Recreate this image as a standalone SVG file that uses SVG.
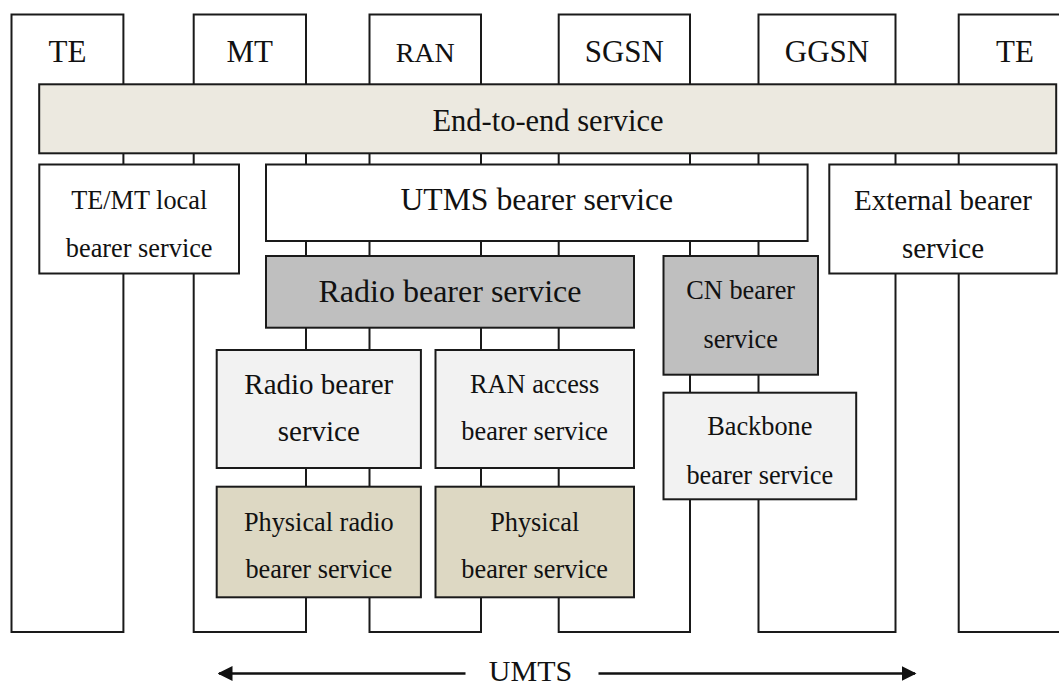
<svg xmlns="http://www.w3.org/2000/svg" width="1059" height="689" viewBox="0 0 1059 689">
  <style>
    .col { fill: #ffffff; stroke: #1a1a1a; stroke-width: 2; }
    .box { stroke: #1a1a1a; stroke-width: 2; }
    .white { fill: #ffffff; }
    .beige { fill: #ECE9E0; }
    .dark { fill: #BFBFBF; }
    .light { fill: #F2F2F2; }
    .tan { fill: #DDD8C3; }
    text { font-family: "Liberation Serif", "Times New Roman", serif; fill: #111111; text-anchor: middle; }
    .conn { stroke: #111111; stroke-width: 2.5; fill: none; }
  </style>
  <defs>
    <marker id="arrow" viewBox="0 0 10 10" refX="9" refY="5" markerWidth="6" markerHeight="6" markerUnits="strokeWidth" orient="auto-start-reverse">
      <path d="M0,0 L10,5 L0,10 z" fill="#111111"/>
    </marker>
  </defs>
  <rect x="0" y="0" width="1059" height="689" fill="#ffffff"/>

  <!-- Network element columns -->
  <g id="col-te-left">
    <rect class="col" x="11.5" y="14.5" width="111.9" height="617.5"/>
    <text x="67.5" y="62" font-size="31">TE</text>
  </g>
  <g id="col-mt">
    <rect class="col" x="193.7" y="14.5" width="112.3" height="617.5"/>
    <text x="249.8" y="62" font-size="31">MT</text>
  </g>
  <g id="col-ran">
    <rect class="col" x="369.5" y="14.5" width="111.5" height="617.5"/>
    <text x="425.2" y="62" font-size="28">RAN</text>
  </g>
  <g id="col-sgsn">
    <rect class="col" x="558.7" y="14.5" width="131.3" height="617.5"/>
    <text x="624.3" y="62" font-size="31">SGSN</text>
  </g>
  <g id="col-ggsn">
    <rect class="col" x="758.5" y="14.5" width="137" height="617.5"/>
    <text x="827" y="62" font-size="31">GGSN</text>
  </g>
  <g id="col-te-right">
    <rect class="col" x="958.7" y="14.5" width="112.3" height="617.5"/>
    <text x="1015" y="62" font-size="31">TE</text>
  </g>

  <!-- Service boxes -->
  <g id="end-to-end">
    <rect class="box beige" x="39.2" y="84.3" width="1017" height="69"/>
    <text x="548" y="130.5" font-size="30.5">End-to-end service</text>
  </g>
  <g id="temt-local">
    <rect class="box white" x="39.3" y="164.5" width="199.7" height="109"/>
    <text x="139.2" y="209.3" font-size="26.3">TE/MT local</text>
    <text x="139.2" y="256.7" font-size="26.3">bearer service</text>
  </g>
  <g id="utms-bearer">
    <rect class="box white" x="266" y="164.5" width="541.6" height="76.5"/>
    <text x="536.8" y="210" font-size="31.7">UTMS bearer service</text>
  </g>
  <g id="external-bearer">
    <rect class="box white" x="829.3" y="164.5" width="227.4" height="109"/>
    <text x="943" y="210" font-size="29">External bearer</text>
    <text x="943" y="258.3" font-size="29">service</text>
  </g>
  <g id="radio-bearer-top">
    <rect class="box dark" x="266" y="256" width="368" height="71.7"/>
    <text x="450" y="302" font-size="32">Radio bearer service</text>
  </g>
  <g id="cn-bearer">
    <rect class="box dark" x="663.5" y="256" width="154.5" height="118.7"/>
    <text x="740.7" y="298.5" font-size="26.3">CN bearer</text>
    <text x="740.7" y="347.5" font-size="26.3">service</text>
  </g>
  <g id="radio-bearer">
    <rect class="box light" x="216.7" y="350" width="204.2" height="118"/>
    <text x="318.8" y="393.5" font-size="29">Radio bearer</text>
    <text x="318.8" y="441" font-size="29">service</text>
  </g>
  <g id="ran-access-bearer">
    <rect class="box light" x="435.5" y="350" width="198.5" height="118"/>
    <text x="534.7" y="393.3" font-size="26.3">RAN access</text>
    <text x="534.7" y="440" font-size="26.3">bearer service</text>
  </g>
  <g id="backbone-bearer">
    <rect class="box light" x="663.5" y="392.7" width="192.7" height="106.6"/>
    <text x="759.8" y="435" font-size="26.3">Backbone</text>
    <text x="759.8" y="483.5" font-size="26.3">bearer service</text>
  </g>
  <g id="physical-radio-bearer">
    <rect class="box tan" x="216.7" y="486.7" width="204.2" height="110.6"/>
    <text x="318.8" y="530.7" font-size="26.3">Physical radio</text>
    <text x="318.8" y="578.3" font-size="26.3">bearer service</text>
  </g>
  <g id="physical-bearer">
    <rect class="box tan" x="435.5" y="486.7" width="198.5" height="110.6"/>
    <text x="534.7" y="530.7" font-size="26.3">Physical</text>
    <text x="534.7" y="578.3" font-size="26.3">bearer service</text>
  </g>

  <!-- Connectors: UMTS span arrows -->
  <g id="connectors">
    <line class="conn" x1="465.5" y1="673.5" x2="219" y2="673.5" marker-end="url(#arrow)"/>
    <line class="conn" x1="598.5" y1="673.5" x2="915" y2="673.5" marker-end="url(#arrow)"/>
  </g>
  <g id="umts-label">
    <text x="530.5" y="681" font-size="30">UMTS</text>
  </g>
</svg>
